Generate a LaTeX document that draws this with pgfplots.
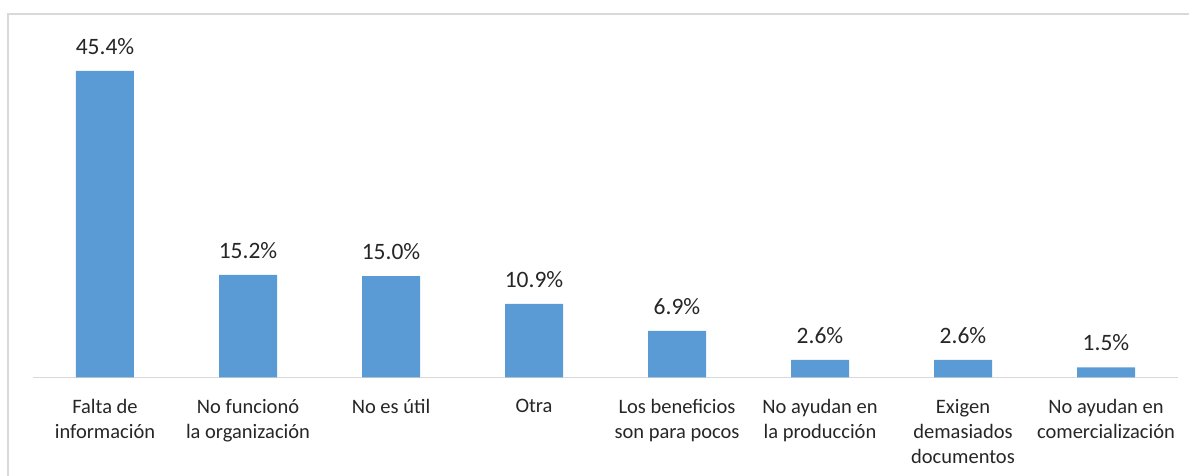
\documentclass[border=0pt]{standalone}
\usepackage{pgfplots}
\pgfplotsset{compat=1.18}
\usepackage{fontspec}
\setmainfont{Carlito}
\definecolor{barblue}{HTML}{5B9BD5}
\definecolor{framegray}{HTML}{D9D9D9}
\definecolor{txt}{HTML}{262626}
\begin{document}
\begin{tikzpicture}
\useasboundingbox (-16.75pt,-49.25pt) rectangle (577.75pt,188.75pt);
\draw[color=framegray, line width=0.8pt] (-12.75pt,-70pt) -- (-12.75pt,181.75pt) -- (620pt,181.75pt);
\begin{axis}[
  at={(0,0)}, anchor=south west,
  scale only axis,
  width=572pt, height=168.9pt,
  xmin=-0.5, xmax=7.5, ymin=0, ymax=50,
  axis y line=none,
  axis x line*=bottom,
  x axis line style={-, draw=framegray, line width=0.8pt},
  ybar, bar width=29pt,
  xtick={0,1,2,3,4,5,6,7},
  xticklabels={{Falta de\\información},{No funcionó\\la organización},{No es útil},{Otra},{Los beneficios\\son para pocos},{No ayudan en\\la producción},{Exigen\\demasiados\\documentos},{No ayudan en\\comercialización}},
  major tick length=0pt,
  xticklabel style={align=center, inner sep=0pt, yshift=-10.5pt, text=txt, font=\fontsize{10.25}{12.5}\selectfont},
  /pgf/number format/assume math mode=true,
  nodes near coords={\pgfmathprintnumber[fixed,fixed zerofill,precision=1]{\pgfplotspointmeta}\%},
  nodes near coords style={anchor=south, inner sep=0pt, yshift=8pt, text=txt, font=\fontsize{11.75}{14}\selectfont},
  clip=false,
]
\addplot[fill=barblue, draw=none] coordinates {(0,45.4) (1,15.2) (2,15.0) (3,10.9) (4,6.9) (5,2.6) (6,2.6) (7,1.5)};
\end{axis}
\end{tikzpicture}
\end{document}
